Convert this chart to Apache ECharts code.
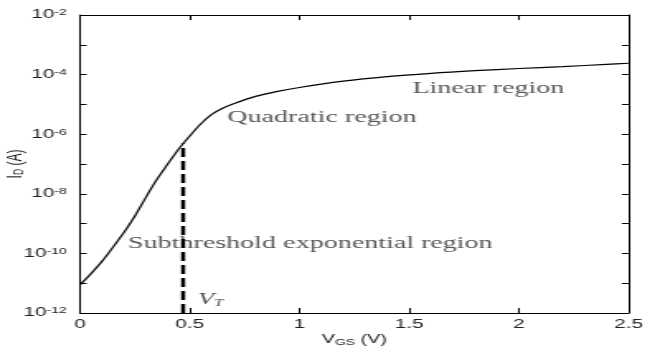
<!DOCTYPE html>
<html>
<head>
<meta charset="utf-8">
<script src="https://cdn.jsdelivr.net/npm/echarts@6/dist/echarts.min.js"></script>
<style>
  html, body { margin: 0; padding: 0; background: #fff; overflow: hidden; width: 648px; height: 353px; }
  /* The figure is drawn narrow and widened horizontally, like a stretched MATLAB export */
  #chart { width: 392.73px; height: 353px; transform: scaleX(1.65); transform-origin: 0 0; }
</style>
</head>
<body>
<div id="chart"></div>
<script>
// Gate voltage (V) and drain current (A) of the MOSFET transfer curve
const vgs = [0, 0.05, 0.1, 0.15, 0.2, 0.25, 0.3, 0.35, 0.4, 0.45, 0.5, 0.55, 0.6, 0.65, 0.7,
             0.8, 0.9, 1.0, 1.2, 1.4, 1.6, 1.8, 2.0, 2.2, 2.4, 2.5];
const idAmps = [8.9e-12, 2.1e-11, 5.4e-11, 1.6e-10, 5.0e-10, 1.8e-9, 7.6e-9, 3.0e-8, 1.0e-7, 3.2e-7,
                8.7e-7, 2.2e-6, 4.6e-6, 7.4e-6, 1.05e-5, 1.86e-5, 2.75e-5, 3.7e-5, 6.0e-5, 8.5e-5,
                1.1e-4, 1.35e-4, 1.6e-4, 1.86e-4, 2.2e-4, 2.4e-4];

// Threshold voltage marker
const vt = 0.47;
const idAtVt = 4.9e-7;

// Axis ranges and ticks (current in decades)
const xTicks = [0, 0.5, 1, 1.5, 2, 2.5];
const yDecadeMin = -12;
const yDecadeMax = -2;

// Region annotations: text and anchor [Vgs, Id]
const noteTexts = ['Linear region', 'Quadratic region', 'Subthreshold exponential region', '{v|V}{t|T}'];
const noteAnchors = [[1.515, 3.5e-5], [0.671, 3.5e-6], [0.219, 2.2e-10], [0.538, 2.75e-12]];

const chart = echarts.init(document.getElementById('chart'));

const lg = v => Math.log10(v);
const curve = vgs.map((v, i) => [v, lg(idAmps[i])]);

const axisColor = '#000';
const labelFont = 'Liberation Sans';
const serifFont = 'Liberation Serif';
const textColor = '#222';

function xAxisDef(pos, showLabels) {
  return {
    type: 'value', position: pos, min: xTicks[0], max: xTicks[xTicks.length - 1], interval: 0.5,
    axisLine: { show: true, onZero: false, lineStyle: { color: axisColor, width: 1 } },
    axisTick: { show: true, inside: true, length: 5, lineStyle: { color: axisColor, width: 1 } },
    axisLabel: { show: showLabels, margin: 5, fontFamily: labelFont, fontSize: 12.5, color: textColor },
    splitLine: { show: false }
  };
}
function yAxisDef(pos, showLabels) {
  return {
    type: 'value', position: pos, min: yDecadeMin, max: yDecadeMax, interval: 1,
    axisLine: { show: true, onZero: false, lineStyle: { color: axisColor, width: 1 } },
    axisTick: { show: true, inside: true, length: 4, lineStyle: { color: axisColor, width: 1 } },
    axisLabel: {
      show: showLabels, margin: 8, fontFamily: labelFont, color: textColor,
      formatter: v => (Math.round(v) % 2 === 0 ? '{b|10}{s|' + Math.round(v) + '}' : ''),
      rich: {
        b: { fontFamily: labelFont, fontSize: 12.5, lineHeight: 13, verticalAlign: 'bottom', color: textColor },
        s: { fontFamily: labelFont, fontSize: 8.5, lineHeight: 9, padding: [0, 0, 7, 0], verticalAlign: 'top', color: textColor }
      }
    },
    splitLine: { show: false }
  };
}

const nameRich = {
  m: { fontFamily: labelFont, fontSize: 12, lineHeight: 13, verticalAlign: 'top', color: textColor },
  sub: { fontFamily: labelFont, fontSize: 8.5, lineHeight: 9, padding: [6, 0, 0, 0], verticalAlign: 'bottom', color: textColor }
};

const xBottom = xAxisDef('bottom', true);
xBottom.name = '{m|V}{sub|GS}{m| (V)}';
xBottom.nameLocation = 'middle';
xBottom.nameGap = 21;
xBottom.nameMoveOverlap = false;
xBottom.nameTextStyle = { rich: nameRich };

const yLeft = yAxisDef('left', true);
yLeft.name = '{m|I}{sub|D}{m| (A)}';
yLeft.nameLocation = 'middle';
yLeft.nameGap = 32;
yLeft.nameRotate = 90;
yLeft.nameMoveOverlap = false;
yLeft.nameTextStyle = { rich: nameRich };

const option = {
  animation: false,
  backgroundColor: '#fff',
  grid: { left: 48.5, right: 12.1, top: 15, bottom: 40, outerBoundsMode: 'none', containLabel: false },
  xAxis: [xBottom, xAxisDef('top', false)],
  yAxis: [yLeft, yAxisDef('right', false)],
  series: [
    {
      name: 'Id', type: 'line', xAxisIndex: 0, yAxisIndex: 0,
      data: curve, smooth: 0.3, symbol: 'none',
      lineStyle: { color: '#000', width: 1.2 }, z: 3
    },
    {
      name: 'VT', type: 'line', xAxisIndex: 0, yAxisIndex: 0,
      data: [[vt, yDecadeMin], [vt, lg(idAtVt)]], symbol: 'none',
      lineStyle: { color: '#000', width: 2.4, type: [9, 4] }, z: 4
    },
    {
      name: 'notes', type: 'scatter', xAxisIndex: 0, yAxisIndex: 0,
      symbolSize: 0, silent: true, z: 2,
      data: noteAnchors.map((p, i) => ({ value: [p[0], lg(p[1])], label: { formatter: noteTexts[i] } })),
      label: {
        show: true, position: 'right', distance: 0,
        fontFamily: serifFont, fontSize: 17, color: '#2a2a2a',
        rich: {
          v: { fontFamily: serifFont, fontStyle: 'italic', fontSize: 16, lineHeight: 16, verticalAlign: 'top', color: textColor },
          t: { fontFamily: serifFont, fontStyle: 'italic', fontSize: 10, lineHeight: 10, padding: [8, 0, 0, 0], verticalAlign: 'bottom', color: textColor }
        }
      }
    }
  ]
};

chart.setOption(option);
</script>
</body>
</html>
